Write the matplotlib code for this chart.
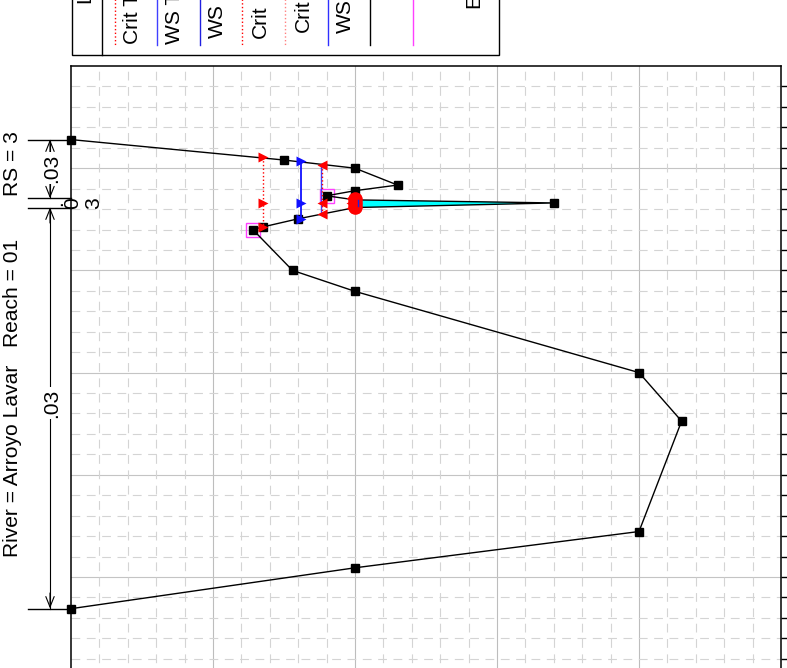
import matplotlib
matplotlib.use("Agg")
import matplotlib.pyplot as plt
from matplotlib.patches import Rectangle

W, H = 787, 668

# plot frame in figure pixels
AX_L, AX_R, AX_T = 71.0, 781.0, 66.0
X_MAJOR = 142.0
Y_MAJOR = 102.2

# ground profile, x = elevation (major grid units), y = station (major grid units, downward)
ground_x = [0.0, 1.50, 2.0, 2.30, 2.0, 1.80, 2.0, 3.40, 2.0, 1.60, 1.35, 1.28, 1.56, 2.0, 4.0, 4.30, 4.0, 2.0, 0.0]
ground_y = [0.72, 0.92, 1.0, 1.165, 1.22, 1.27, 1.31, 1.34, 1.385, 1.495, 1.575, 1.60, 2.0, 2.205, 3.0, 3.475, 4.555, 4.91, 5.31]

# water surface fill
water_x = [2.0, 3.40, 2.0]
water_y = [1.31, 1.34, 1.385]

# bank and ineffective markers (magenta open squares)
bank_x = [1.80, 1.28]
bank_y = [1.27, 1.60]

# computed levels: left points, middle points, right points
crit_total_x = [1.35, 1.35, 1.35]
crit_total_y = [0.89, 1.34, 1.575]
ws_total_x = [1.62, 1.62, 1.62]
ws_total_y = [0.93, 1.34, 1.495]
crit_x = [1.77, 1.77, 1.77]
crit_y = [0.965, 1.34, 1.45]
ws_x = [2.0, 2.0, 2.0]
ws_y = [1.30, 1.34, 1.38]
crit_small_x = [1.96, 1.96, 1.96]
crit_small_y = [1.29, 1.34, 1.385]

legend_labels = ["Crit T", "WS T", "WS", "Crit", "Crit", "WS"]
legend_label_x = [132, 175, 217.5, 260, 303, 345.5]
legend_label_bottom = [43.5, 43.5, 38.5, 37.5, 32, 33]
legend_colors = ["red", "#4040ff", "#2020e0", "red", "#ff8080", "#3030ff", "black", "#ff40ff"]
legend_styles = [":", "-", "-", ":", ":", "-", "-", "-"]
legend_line_x = [114.5, 156.7, 199.7, 242.3, 285, 327.7, 370.3, 413]

LBL_RIVER = "River = Arroyo Lavar   Reach = 01"
LBL_RS = "RS = 3"
FS = 15.1

plt.rcParams["font.family"] = ["Liberation Sans", "DejaVu Sans"]
fig = plt.figure(figsize=(W / 100, H / 100), dpi=100, facecolor="white")
ax = fig.add_axes([AX_L / W, 0, (AX_R - AX_L) / W, (H - AX_T) / H])
x_max = (AX_R - AX_L) / X_MAJOR
y_max = (H - AX_T) / Y_MAJOR
ax.set_xlim(0, x_max)
ax.set_ylim(y_max, 0)

# grid, dashes run from the left edge and down from the top edge
# (dash lengths get scaled by the line width)
h_dash = (0, (7.9, 5.9))
v_dash = (9.1, (7.9, 5.9))
for i in range(1, 5):
    ax.axvline(i, color="#bdbdbd", lw=0.8, zorder=1)
for i in range(1, 6):
    ax.axhline(i, color="#c4c4c4", lw=0.8, zorder=1)
for i in range(25):
    if i % 5:
        ax.plot([i / 5, i / 5], [0, y_max], color="#d4d4d4", lw=0.8, ls=v_dash, zorder=1)
for i in range(30):
    if i % 5:
        ax.plot([0, x_max], [i / 5, i / 5], color="#d4d4d4", lw=0.8, ls=h_dash, zorder=1)

ax.set_xticks([])
ax.yaxis.tick_right()
ax.set_yticks([i / 5 for i in range(1, 30)])
ax.tick_params(axis="y", direction="out", length=4.3, width=1.0, color="black", labelright=False)
ax.spines["bottom"].set_visible(False)
for s in ["left", "top", "right"]:
    ax.spines[s].set_linewidth(1.1)
    ax.spines[s].set_color("black")

ax.fill(water_x, water_y, color="#00ffff", lw=0, zorder=3)
ax.plot(ground_x, ground_y, color="black", lw=1.0, zorder=4)
ax.plot(ground_x, ground_y, ls="none", marker="s", ms=5.8, mfc="black", mec="black", clip_on=False, zorder=4)
ax.plot(bank_x, bank_y, ls="none", marker="s", ms=9.5, mfc="none", mec="#ff40ff", mew=1, zorder=3)

ax.plot(crit_total_x, crit_total_y, color="red", ls=":", lw=1, marker=">", ms=7.5, mec="none", zorder=5)
ax.plot(ws_total_x, ws_total_y, color="#1010ff", lw=1.3, marker=">", ms=7.5, mec="none", zorder=5)
ax.plot([1.76, 1.76], [0.965, 1.45], color="#4040ff", lw=1, zorder=4)
ax.plot(crit_x, crit_y, color="red", ls=":", lw=1, marker="<", ms=7.5, mec="none", zorder=5)
ax.plot(crit_small_x, crit_small_y, ls="none", color="red", marker="<", ms=5, mec="none", zorder=6)
ax.plot(ws_x, ws_y, color="red", ls="none", marker="o", ms=10.5, mec="none", zorder=6)
ax.plot([2.02, 2.02], [1.31, 1.37], color="#2020e0", lw=1, zorder=7)

# legend box, cut off by the top of the picture
lax = fig.add_axes([0, 0, 1, 1], facecolor="none")
lax.set_xlim(0, W)
lax.set_ylim(H, 0)
lax.axis("off")
lax.add_patch(Rectangle((71.5, -5), 427, 60, fc="none", ec="black", lw=1))
lax.plot([101.5, 101.5], [-5, 55], color="black", lw=1)
lax.text(85, 3, "L", rotation=90, ha="center", va="bottom", fontsize=FS)
for col, sty, lx in zip(legend_colors, legend_styles, legend_line_x):
    lax.plot([lx, lx], [-5, 45], color=col, ls=sty, lw=1)
for lab, tx, ty in zip(legend_labels, legend_label_x, legend_label_bottom):
    lax.text(tx, ty, lab, rotation=90, ha="center", va="bottom", fontsize=FS)
lax.text(474, 8, "E", rotation=90, ha="center", va="bottom", fontsize=FS)

# reach length dimension marks
for y0 in [139.5, 198.3, 207.5, 608.5]:
    lax.plot([28, 71], [y0, y0], color="black", lw=1)
lax.plot([50, 50], [139.5, 198.3], color="black", lw=0.8, zorder=1)
lax.plot([50, 50], [207.5, 608.5], color="black", lw=0.8, zorder=1)
head = dict(arrowstyle="->,head_length=0.75,head_width=0.3", color="black", lw=0.8, shrinkA=0, shrinkB=0)
for tip, tail in [(139.5, 155), (198.3, 183), (207.5, 223), (608.5, 593)]:
    lax.annotate("", xy=(50, tip), xytext=(50, tail), arrowprops=head, zorder=5)
bg = dict(fc="white", ec="none", pad=1)
lax.text(52, 168, ".03", rotation=90, ha="center", va="center", fontsize=FS, bbox=bg, zorder=6)
lax.text(52, 403, ".03", rotation=90, ha="center", va="center", fontsize=FS, bbox=bg, zorder=6)
lax.text(72.5, 203, "0", rotation=90, ha="center", va="center", fontsize=FS, zorder=6)
lax.text(57, 203, ".", rotation=90, ha="center", va="center", fontsize=FS, zorder=6)
lax.text(94, 203, "3", rotation=90, ha="center", va="center", fontsize=FS, zorder=6)

lax.text(13, 557, LBL_RIVER, rotation=90, ha="center", va="bottom", fontsize=FS)
lax.text(13, 196, LBL_RS, rotation=90, ha="center", va="bottom", fontsize=FS)

fig.savefig("out.png", dpi=100, facecolor="white")
